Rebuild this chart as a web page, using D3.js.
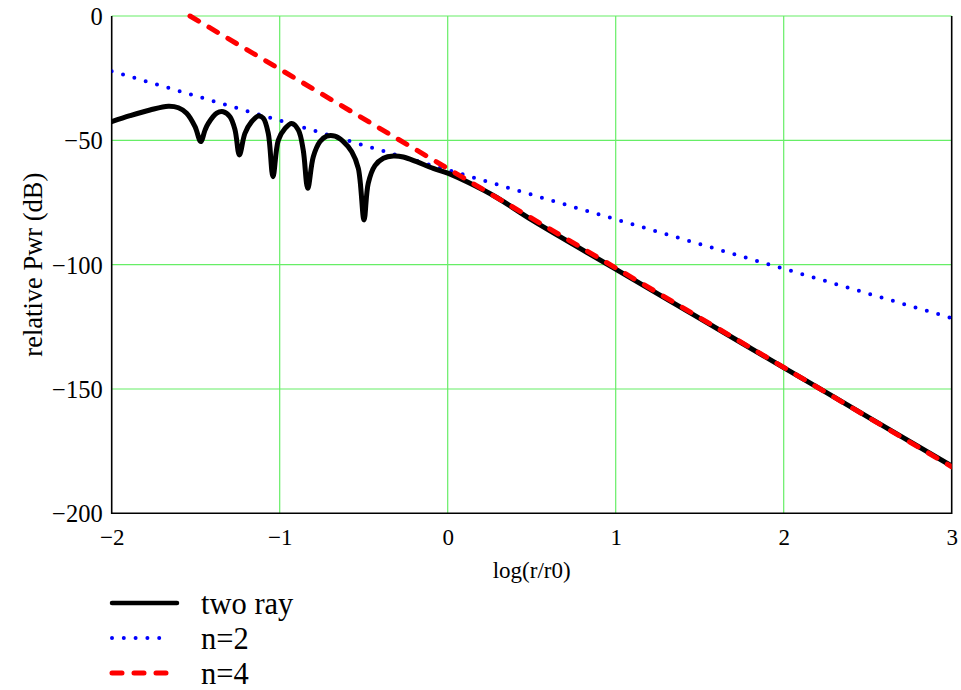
<!DOCTYPE html>
<html><head><meta charset="utf-8">
<script src="https://cdn.jsdelivr.net/npm/d3@7"></script>
<style>
body{margin:0;background:#fff;}
svg text{font-family:"Liberation Serif","Times New Roman",serif !important;fill:#000;}
</style></head>
<body><svg id="chart" width="961" height="690"></svg>
<script>
// ---- data ----
const xTicks = [-2, -1, 0, 1, 2, 3];
const yTicks = [0, -50, -100, -150, -200];
const seriesNames = ["two ray", "n=2", "n=4"];
const twoRayLog = [-2.000,-1.891,-1.772,-1.663,-1.603,-1.554,-1.504,-1.470,-1.445,-1.425,-1.375,-1.336,-1.296,-1.266,-1.240,-1.207,-1.167,-1.127,-1.098,-1.068,-1.040,-1.008,-0.968,-0.929,-0.889,-0.860,-0.833,-0.800,-0.760,-0.720,-0.671,-0.621,-0.571,-0.532,-0.498,-0.473,-0.433,-0.383,-0.324,-0.264,-0.185,-0.086,0.004,0.133,0.292,0.5,1.0,1.5,2.0,2.5,3.0];
const twoRayDb  = [-42.5,-40.1,-37.8,-36.3,-36.9,-39.1,-44.5,-50.5,-46.0,-43.2,-39.1,-38.5,-40.5,-45.8,-55.9,-47.2,-42.5,-40.2,-41.1,-47.2,-64.6,-49.9,-45.2,-43.2,-45.8,-53.9,-69.3,-56.6,-50.5,-48.3,-48.3,-50.5,-54.6,-61.3,-82.0,-67.3,-60.2,-57.2,-56.3,-56.7,-58.6,-61.3,-63.3,-67.3,-73.0,-82.0,-101.8,-121.6,-141.4,-161.2,-181.0];
const n2Log = [-2, 3];
const n2Db  = [-22.2, -121.5];
const n4Log = [-1.534, 3];
const n4Db  = [0, -181.3];

// ---- layout ----
const svg = d3.select("#chart");
const L = 111.7, R = 951.7, T = 16, B = 513.3;
const x = d3.scaleLinear().domain([-2, 3]).range([L, R]);
const y = d3.scaleLinear().domain([-200, 0]).range([B, T]);
const SERIF = '"Liberation Serif","Times New Roman",serif';

svg.append("defs").append("clipPath").attr("id","clip")
  .append("rect").attr("x",L).attr("y",T-3).attr("width",R-L).attr("height",B-T+3);

// grid
const gridColor = "#66ee66";
const grid = svg.append("g");
grid.selectAll("line.v").data(xTicks.filter(d=>d>-2 && d<3)).enter().append("line")
  .attr("x1",d=>x(d)).attr("x2",d=>x(d)).attr("y1",T).attr("y2",B)
  .attr("stroke",gridColor).attr("stroke-width",1.2);
grid.selectAll("line.h").data(yTicks.filter(d=>d>-200)).enter().append("line")
  .attr("y1",d=>y(d)).attr("y2",d=>y(d)).attr("x1",L).attr("x2",R)
  .attr("stroke",gridColor).attr("stroke-width",1.2);

// axes with labels
const fmt = d3.format("");
const ax = svg.append("g").attr("transform",`translate(0,${B})`)
  .call(d3.axisBottom(x).tickValues(xTicks).tickSize(0).tickPadding(10).tickFormat(fmt));
ax.attr("font-family",null).attr("font-size",null);
ax.select(".domain").remove();
ax.selectAll("text").style("font-family",SERIF).style("font-size","23px").attr("dy","0.95em");
const ay = svg.append("g").attr("transform",`translate(${L},0)`)
  .call(d3.axisLeft(y).tickValues(yTicks).tickSize(0).tickPadding(9).tickFormat(fmt));
ay.attr("font-family",null).attr("font-size",null);
ay.select(".domain").remove();
ay.selectAll("text").style("font-family",SERIF).style("font-size","24.5px").attr("dy","0.35em");

// frame
svg.append("path").attr("d",`M${L},${T}V${B}H${R}V${T}`)
  .attr("fill","none").attr("stroke","#000").attr("stroke-width",1.6);

// titles
svg.append("text").attr("x",(L+R)/2).attr("y",578).attr("text-anchor","middle")
  .style("font-family",SERIF).style("font-size","23px").text("log(r/r0)");
svg.append("text").attr("transform",`translate(42,${(T+B)/2}) rotate(-90)`)
  .attr("text-anchor","middle").style("font-family",SERIF).style("font-size","26.5px").text("relative Pwr (dB)");

// lines
const toPts = (xs, ys) => xs.map((v,i)=>[v, ys[i]]);
const straight = d3.line().x(d=>x(d[0])).y(d=>y(d[1]));
const smooth = d3.line().x(d=>x(d[0])).y(d=>y(d[1])).curve(d3.curveCatmullRom.alpha(0.5));
const plot = svg.append("g").attr("clip-path","url(#clip)");
const styles = [
  {stroke:"#000", width:5, dash:null},
  {stroke:"#0000ff", width:4, dash:"0,11.8"},
  {stroke:"#ff0000", width:5, dash:"10,12"}
];
plot.append("path").datum(toPts(n2Log,n2Db)).attr("d",straight)
  .attr("fill","none").attr("stroke",styles[1].stroke).attr("stroke-width",styles[1].width)
  .attr("stroke-dasharray",styles[1].dash).attr("stroke-linecap","round");
plot.append("path").datum(toPts(twoRayLog,twoRayDb)).attr("d",smooth)
  .attr("fill","none").attr("stroke",styles[0].stroke).attr("stroke-width",styles[0].width)
  .attr("stroke-linejoin","round").attr("stroke-linecap","round");
plot.append("path").datum(toPts(n4Log,n4Db)).attr("d",straight)
  .attr("fill","none").attr("stroke",styles[2].stroke).attr("stroke-width",styles[2].width)
  .attr("stroke-dasharray",styles[2].dash).attr("stroke-linecap","round");

// legend
const lg = svg.append("g");
seriesNames.forEach((name,i)=>{
  const yy = 603 + i*35;
  const s = styles[i];
  lg.append("line").attr("x1",112).attr("x2",i===0?177:(i===1?168:172)).attr("y1",yy).attr("y2",yy)
    .attr("stroke",s.stroke).attr("stroke-width",i===0?4.5:s.width).attr("stroke-dasharray",s.dash)
    .attr("stroke-linecap","round");
  lg.append("text").attr("x",201).attr("y",yy+11).style("font-family",SERIF).style("font-size","30.5px").text(name);
});
</script></body></html>
